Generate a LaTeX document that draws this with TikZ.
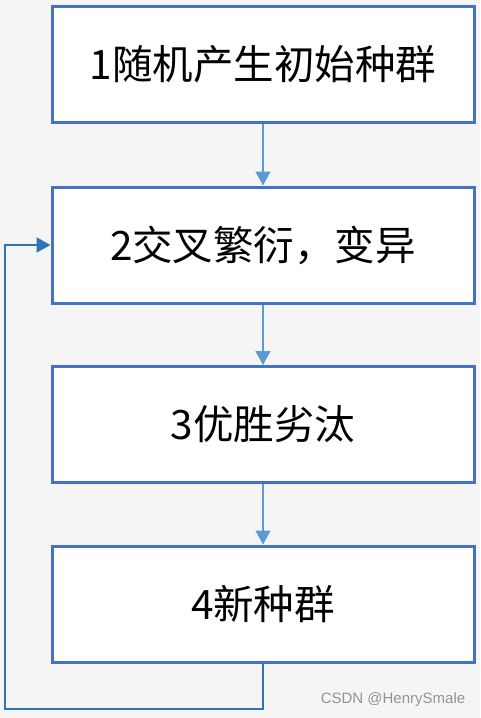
\documentclass[tikz,border=0pt]{standalone}
\usepackage{fontspec}
\setmainfont{Noto Sans CJK SC}
\newfontfamily\markfont{Liberation Sans}
\usetikzlibrary{arrows.meta}
\definecolor{boxblue}{HTML}{4472C4}
\definecolor{arrowblue}{HTML}{5B9BD5}
\definecolor{loopblue}{HTML}{2E75B6}
\definecolor{bggray}{HTML}{F5F5F5}

\begin{document}
\begin{tikzpicture}[x=1pt,y=-1pt,
        stagebox/.style={draw=boxblue,line width=3pt,fill=white,minimum width=422pt,
            minimum height=116pt,inner sep=0pt,font=\fontsize{40.5}{46}\selectfont},
        flow/.style={arrowblue,line width=1.5pt,-{Triangle[length=14pt,width=15pt]}},
        back/.style={loopblue,line width=2pt,-{Triangle[length=14pt,width=15pt]}}]
        % page and background
        \fill[bggray] (0,0) rectangle (480,718);
        \useasboundingbox (0,0) rectangle (480,718);
        % the four stages
        \node[stagebox] (s1) at (263,64.5) {1随机产生初始种群};
        \node[stagebox] (s2) at (263,245) {2交叉繁衍，变异};
        \node[stagebox] (s3) at (263,424.5) {3优胜劣汰};
        \node[stagebox] (s4) at (263,604) {4新种群};
        % arrows down
        \foreach \a/\b in {s1/s2,s2/s3,s3/s4}
            \draw[flow] (\a.south) -- (\b.north);
        % loop back to stage 2
        \coordinate (corner) at (5,709);
        \draw[back] (s4.south) |- (corner) |- (s2.west);
        % watermark
        \node[text=gray!85,font=\markfont\fontsize{15}{17}\selectfont] (mark) at (393,700) {CSDN @HenrySmale};
    \end{tikzpicture}
\end{document}
